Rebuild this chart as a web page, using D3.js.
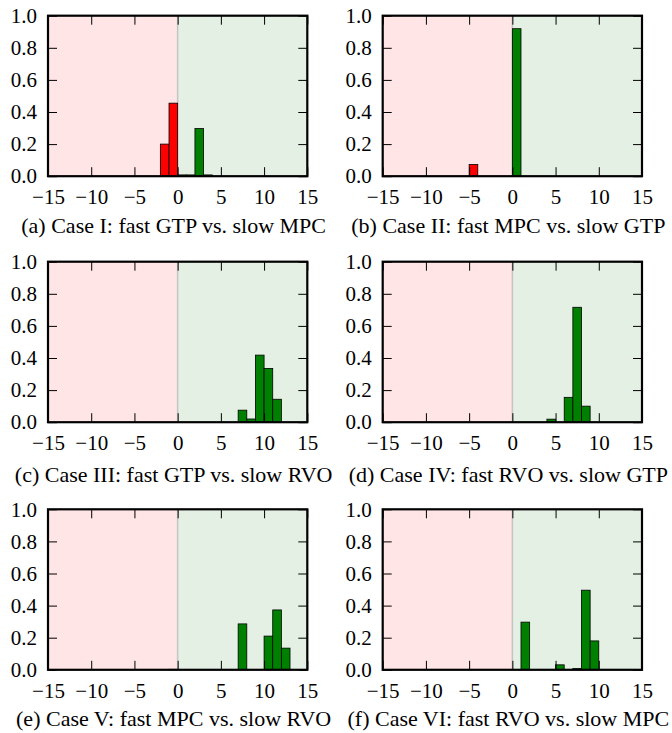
<!DOCTYPE html>
<html>
<head>
<meta charset="utf-8">
<script src="https://cdn.jsdelivr.net/npm/d3@7"></script>
<style>
  body { margin: 0; background: #fff; }
  svg { display: block; }
  .tick text { font-family: "Liberation Serif", serif; font-size: 21px; fill: #000; }
  .caption { font-family: "Liberation Serif", serif; font-size: 22px; fill: #000; }
</style>
</head>
<body>
<div class="d3-canvas"></div>
<script>
const WIDTH = 672;
const HEIGHT = 733;

// Histogram data: left edge of each unit bin and its share.
const captions = [
    '(a) Case I: fast GTP vs. slow MPC',
    '(b) Case II: fast MPC vs. slow GTP',
    '(c) Case III: fast GTP vs. slow RVO',
    '(d) Case IV: fast RVO vs. slow GTP',
    '(e) Case V: fast MPC vs. slow RVO',
    '(f) Case VI: fast RVO vs. slow MPC'
];
const binsA = [-2, -1, 0, 1, 2, 3];
const valuesA = [0.20, 0.455, 0.008, 0.008, 0.297, 0.008];
const binsB = [-5, 0];
const valuesB = [0.073, 0.919];
const binsC = [7, 8, 9, 10, 11];
const valuesC = [0.075, 0.02, 0.418, 0.335, 0.143];
const binsD = [4, 6, 7, 8];
const valuesD = [0.019, 0.155, 0.716, 0.10];
const binsE = [-1, 7, 10, 11, 12];
const valuesE = [0.003, 0.286, 0.21, 0.373, 0.135];
const binsF = [1, 5, 7, 8, 9];
const valuesF = [0.297, 0.031, 0.008, 0.496, 0.18];

const xTicks = [-15, -10, -5, 0, 5, 10, 15];
const yTicks = [0, 0.2, 0.4, 0.6, 0.8, 1.0];
const xDomain = [-15, 15];
const yDomain = [0, 1];
const BIN_WIDTH = 1;

const panels = [
    {bins: binsA, values: valuesA},
    {bins: binsB, values: valuesB},
    {bins: binsC, values: valuesC},
    {bins: binsD, values: valuesD},
    {bins: binsE, values: valuesE},
    {bins: binsF, values: valuesF}
];

// Layout
const colLeft = [48, 382.7];
const rowTop = [15.7, 261.7, 509.3];
const plotWidth = 259.3;
const plotHeight = 160.5;
const captionBaseline = [233, 482, 726];
const TICK = 9;

const svg = d3.select('.d3-canvas')
    .append('svg')
        .attr('width', WIDTH)
        .attr('height', HEIGHT);

const x = d3.scaleLinear().domain(xDomain).range([0, plotWidth]);
const y = d3.scaleLinear().domain(yDomain).range([plotHeight, 0]);

panels.forEach((p, i) => {
    const col = i % 2;
    const row = Math.floor(i / 2);
    const chart = svg.append('g')
        .attr('transform', `translate(${colLeft[col]}, ${rowTop[row]})`);

    // Shaded halves: red for negative, green for positive.
    chart.append('rect')
        .attr('x', x(xDomain[0])).attr('y', 0)
        .attr('width', x(0) - x(xDomain[0])).attr('height', plotHeight)
        .attr('fill', '#ffe5e5');
    chart.append('rect')
        .attr('x', x(0)).attr('y', 0)
        .attr('width', x(xDomain[1]) - x(0)).attr('height', plotHeight)
        .attr('fill', '#e5f0e5');
    chart.append('line')
        .attr('x1', x(0)).attr('x2', x(0))
        .attr('y1', 0).attr('y2', plotHeight)
        .attr('stroke', '#c4c4c4')
        .attr('stroke-width', 1.5);

    // Bars.
    const data = p.bins.map((b, j) => ({x0: b, v: p.values[j]}));
    chart.selectAll('rect.bar')
        .data(data)
        .enter()
        .append('rect')
        .attr('class', 'bar')
        .attr('x', d => x(d.x0))
        .attr('width', d => x(d.x0 + BIN_WIDTH) - x(d.x0))
        .attr('y', d => y(d.v))
        .attr('height', d => y(0) - y(d.v))
        .attr('fill', d => d.x0 < 0 ? '#ff0000' : '#008000')
        .attr('stroke', '#000')
        .attr('stroke-width', 0.8);

    // Axes with inward ticks on all four sides.
    chart.append('g')
        .attr('transform', `translate(0, ${plotHeight})`)
        .call(d3.axisBottom(x).tickValues(xTicks).tickSize(-TICK).tickPadding(13));
    chart.append('g')
        .call(d3.axisTop(x).tickValues(xTicks).tickSize(-TICK).tickFormat(''));
    chart.append('g')
        .call(d3.axisLeft(y).tickValues(yTicks).tickSize(-TICK).tickPadding(11).tickFormat(d3.format('.1f')));
    chart.append('g')
        .attr('transform', `translate(${plotWidth}, 0)`)
        .call(d3.axisRight(y).tickValues(yTicks).tickSize(-TICK).tickFormat(''));

    chart.selectAll('.domain').remove();
    chart.selectAll('.tick line').attr('stroke', '#000').attr('stroke-width', 1);

    // Frame.
    chart.append('rect')
        .attr('width', plotWidth)
        .attr('height', plotHeight)
        .attr('fill', 'none')
        .attr('stroke', '#000')
        .attr('stroke-width', 2.2);

    svg.append('text')
        .attr('class', 'caption')
        .attr('x', colLeft[col] + plotWidth / 2 - 4)
        .attr('y', captionBaseline[row])
        .attr('text-anchor', 'middle')
        .text(captions[i]);
});
</script>
</body>
</html>
